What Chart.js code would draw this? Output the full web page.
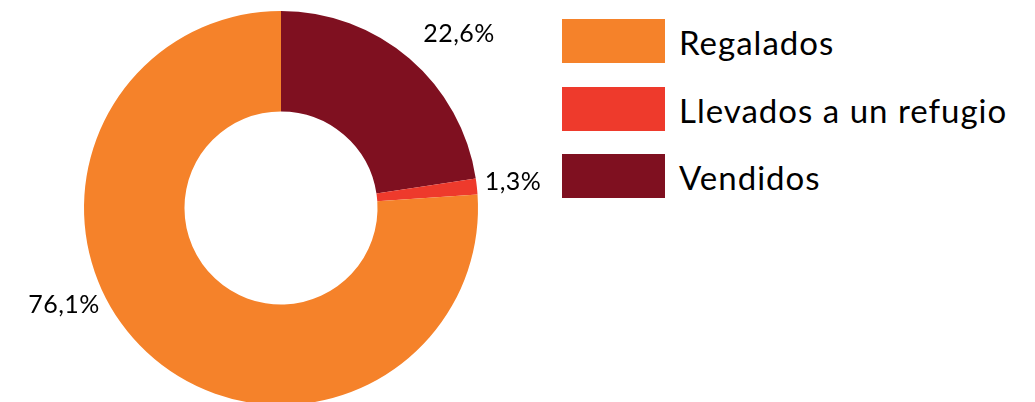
<!DOCTYPE html>
<html>
<head>
<meta charset="utf-8">
<script src="https://cdn.jsdelivr.net/npm/chart.js@4/dist/chart.umd.min.js"></script>
<style>
html,body{margin:0;padding:0;background:#fff;overflow:hidden;}
#wrap{position:relative;width:1035px;height:402px;overflow:hidden;font-family:"Lato",sans-serif;}
#pieBox{position:absolute;left:0;top:0;width:562px;height:416px;}
#legend{position:absolute;left:562px;top:19px;}
.item{position:absolute;left:0;height:44px;white-space:nowrap;}
.swatch{position:absolute;left:0;top:0;width:103px;height:44px;}
.txt{position:absolute;left:117px;top:1px;line-height:44px;font-size:33px;letter-spacing:1px;color:#000;}
</style>
</head>
<body>
<div id="wrap">
  <div id="pieBox"><canvas id="myChart"></canvas></div>
  <div id="legend"></div>
</div>
<script>
// slice order as drawn clockwise from the top
let labels=["Vendidos","Llevados a un refugio","Regalados"];
let values=[22.6,1.3,76.1];
let colors=["#7f1020","#ee3a2c","#f5822a"];
let valueText=["22,6%","1,3%","76,1%"];

// legend is listed the other way round
let legendOrder=[2,1,0];

function $(id){
    return document.getElementById(id);
}

// where each percentage sits, relative to the doughnut centre
let labelOffsets=[[178,-174],[232,-26],[-217,97]];

let percentLabels={
    id:"percentLabels",
    afterDatasetsDraw(chart){
        let ctx=chart.ctx;
        let arcs=chart.getDatasetMeta(0).data;
        ctx.save();
        ctx.font="25px Lato";
        ctx.letterSpacing="0.5px";
        ctx.fillStyle="#000";
        ctx.textAlign="center";
        ctx.textBaseline="middle";
        for(let i=0;i<arcs.length;i++){
            let a=arcs[i];
            ctx.fillText(valueText[i],a.x+labelOffsets[i][0],a.y+labelOffsets[i][1]);
        }
        ctx.restore();
    }
};

new Chart("myChart",{
    type:"doughnut",
    data:{
        labels:labels,
        datasets:[{
            data:values,
            backgroundColor:colors,
            borderWidth:0
        }]
    },
    options:{
        responsive:true,
        maintainAspectRatio:false,
        animation:false,
        cutout:"49%",
        layout:{padding:{left:84,right:84,top:11,bottom:11}},
        plugins:{
            legend:{display:false},
            tooltip:{enabled:false}
        }
    },
    plugins:[percentLabels]
});

// build the legend
let legend=$("legend");
for(let k=0;k<legendOrder.length;k++){
    let i=legendOrder[k];
    let item=document.createElement("div");
    item.className="item";
    item.style.top=(k*67.5)+"px";
    let sw=document.createElement("div");
    sw.className="swatch";
    sw.style.backgroundColor=colors[i];
    let t=document.createElement("div");
    t.className="txt";
    t.textContent=labels[i];
    item.appendChild(sw);
    item.appendChild(t);
    legend.appendChild(item);
}
</script>
</body>
</html>
